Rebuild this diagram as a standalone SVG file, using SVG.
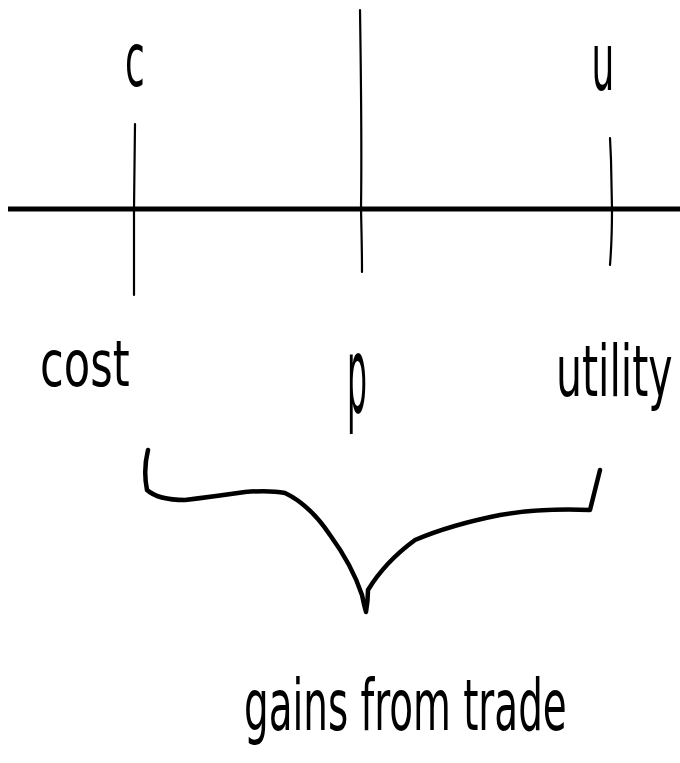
<svg xmlns="http://www.w3.org/2000/svg" width="680" height="763" viewBox="0 0 680 763">
<style>
.lbl{font-family:"DejaVu Sans Condensed","DejaVu Sans","Liberation Sans",sans-serif;font-weight:300;fill:#000}
.tick{stroke:#000;stroke-width:2.2;fill:none;stroke-linecap:round}
</style>
<rect width="680" height="763" fill="#fff"/>
<g id="connectors">
<line x1="8" y1="209" x2="680" y2="209" stroke="#000" stroke-width="5"/>
<path class="tick" d="M135 124 L134 209 L134 295"/>
<path class="tick" d="M360 10 Q362 140 361 209 Q362 250 362 272"/>
<path class="tick" d="M610 138 L611 160 L612 209 Q612 240 610 265"/>
<path d="M148 450 Q143 470 147 490 Q158 500 185 500 Q210 497 245 492 Q270 490 285 493 Q310 505 330 535 Q352 565 362 595 Q364 605 366 612 Q368 600 368 590 Q385 562 415 540 Q450 525 500 515 Q540 508 590 510 Q595 490 600 470" fill="none" stroke="#000" stroke-width="4.5" stroke-linecap="round" stroke-linejoin="round"/>
</g>
<g id="c"><text class="lbl" transform="translate(135,86) scale(0.8,1.5)" font-size="50" text-anchor="middle">c</text></g>
<g id="u"><text class="lbl" transform="translate(603,90) scale(0.8,1.6)" font-size="50" text-anchor="middle">u</text></g>
<g id="cost"><text class="lbl" transform="translate(40,386) scale(1,1.35)" font-size="48">cost</text></g>
<g id="p"><text class="lbl" transform="translate(357,412) scale(0.7,2.1)" font-size="50" text-anchor="middle">p</text></g>
<g id="utility"><text class="lbl" transform="translate(556,396) scale(0.95,1.5)" font-size="48">utility</text></g>
<g id="gains"><text class="lbl" transform="translate(244,730) scale(0.9,1.5)" font-size="48">gains from trade</text></g>
</svg>
